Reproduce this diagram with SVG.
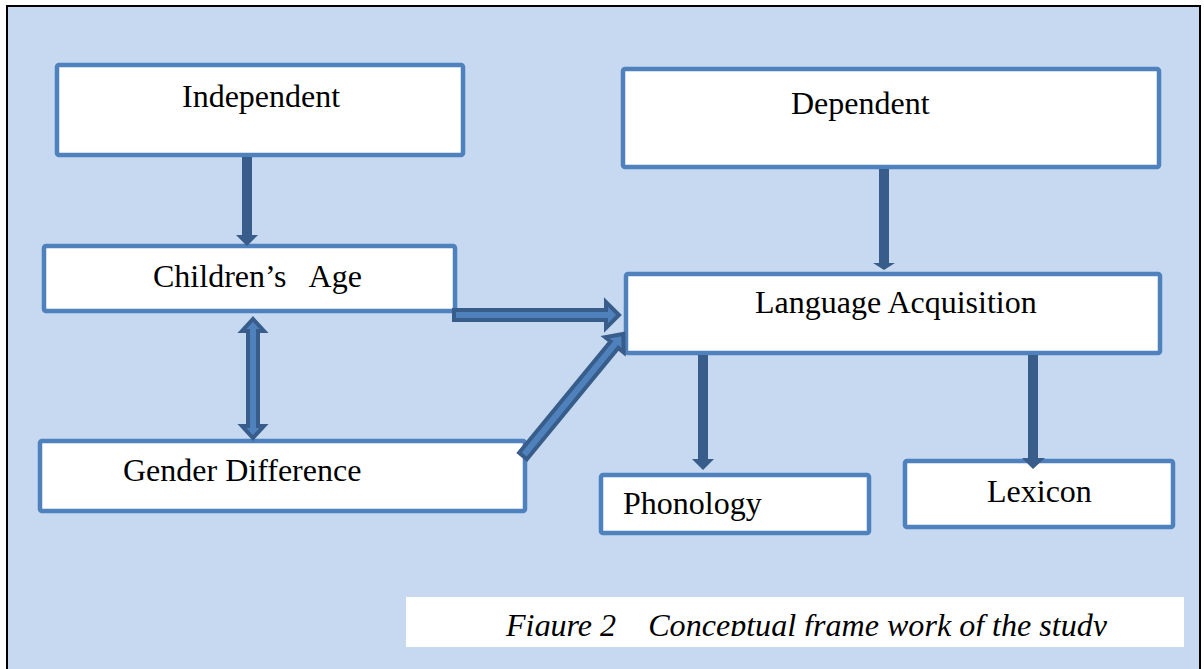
<svg xmlns="http://www.w3.org/2000/svg" width="1204" height="669" viewBox="0 0 1204 669">
<style>
.box{fill:#ffffff;stroke:#4f81bd;stroke-width:4.5}
.lbl{font-family:"Liberation Serif","Times New Roman",serif;font-size:32px;fill:#000}
.solid{fill:#385d8a;stroke:none}
.block{fill:#4f81bd;stroke:#385d8a;stroke-width:4;stroke-linejoin:miter}
</style>
<defs>
<clipPath id="capclip"><rect x="400" y="590" width="800" height="46"/></clipPath>
</defs>
<rect x="0" y="0" width="1204" height="669" fill="#ffffff"/>
<rect x="7" y="6" width="1193" height="680" fill="#c6d9f0" stroke="#000" stroke-width="2"/>

<g id="node-independent">
  <rect class="box" x="57" y="65" width="406" height="90" rx="2"/>
  <text class="lbl" x="182" y="107">Independent</text>
</g>
<g id="node-childrens-age">
  <rect class="box" x="44" y="246" width="411" height="65" rx="2"/>
  <text class="lbl" x="153" y="287" xml:space="preserve">Children’s   Age</text>
</g>
<g id="node-gender-difference">
  <rect class="box" x="40" y="441" width="485" height="70" rx="2"/>
  <text class="lbl" x="123" y="481">Gender Difference</text>
</g>
<g id="node-dependent">
  <rect class="box" x="623" y="69" width="536" height="98" rx="2"/>
  <text class="lbl" x="791" y="114">Dependent</text>
</g>
<g id="node-language-acquisition">
  <rect class="box" x="626" y="274" width="534" height="79" rx="2"/>
  <text class="lbl" x="755" y="313">Language Acquisition</text>
</g>
<g id="node-phonology">
  <rect class="box" x="601" y="475" width="268" height="58" rx="2"/>
  <text class="lbl" x="623" y="514">Phonology</text>
</g>
<g id="node-lexicon">
  <rect class="box" x="905" y="461" width="268" height="66" rx="2"/>
  <text class="lbl" x="987" y="502">Lexicon</text>
</g>

<g id="connectors">
  <!-- Independent -> Children's Age -->
  <polygon class="solid" points="242,157 252,157 252,235 258,235 247,246 236,235 242,235"/>
  <!-- Dependent -> Language Acquisition -->
  <polygon class="solid" points="879,169 889,169 889,263 895,263 884,270 873,263 879,263"/>
  <!-- LA -> Phonology -->
  <polygon class="solid" points="698,355 708,355 708,459 714,459 703,470 692,459 698,459"/>
  <!-- LA -> Lexicon -->
  <polygon class="solid" points="1028,355 1038,355 1038,458 1045,458 1033,469 1022,458 1028,458"/>
  <!-- Children's Age -> LA (block arrow) -->
  <polygon class="block" points="454,310 606,310 606,302 619,315 606,328 606,320 454,320"/>
  <!-- Children's Age <-> Gender Difference (double block arrow) -->
  <polygon class="block" points="253,319 264,331 258,331 258,426 264,426 253,438 242,426 248,426 248,331 242,331"/>
  <!-- Gender Difference -> LA (diagonal block arrow) -->
  <polygon class="block" transform="translate(523,456) rotate(-50.6)" points="0,-5 144,-5 144,-12 158,0 144,12 144,5 0,5"/>
</g>

<g id="caption">
  <rect x="406" y="597" width="778" height="50" fill="#ffffff"/>
  <text clip-path="url(#capclip)" x="506" y="636" font-family="'Liberation Serif','Times New Roman',serif" font-style="italic" font-size="32" fill="#000" xml:space="preserve" textLength="601" lengthAdjust="spacingAndGlyphs">Figure 2    Conceptual frame work of the study</text>
</g>
</svg>
